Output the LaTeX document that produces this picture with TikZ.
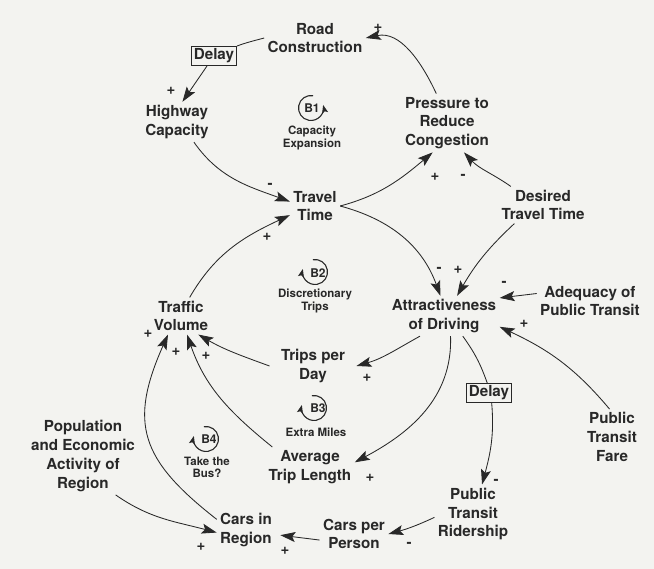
\documentclass[tikz,border=0pt]{standalone}
\usepackage{fontspec}
\setmainfont{TeX Gyre Heros}
\usetikzlibrary{arrows.meta}
\definecolor{ink}{RGB}{40,40,40}
\definecolor{paper}{RGB}{243,243,240}
\begin{document}
\begin{tikzpicture}[x=1pt,y=1pt,
  var/.style={align=center, font=\fontsize{15.2}{18.7}\selectfont\bfseries, text=ink, inner sep=1.5pt, outer sep=2pt},
  pol/.style={font=\fontsize{15}{15}\selectfont\bfseries, text=ink, inner sep=0pt},
  delaybox/.style={draw=ink, line width=0.9pt, font=\fontsize{15.2}{18}\selectfont\bfseries, text=ink, inner sep=2.3pt},
  lname/.style={align=center, font=\fontsize{11.5}{12.2}\selectfont\bfseries, text=ink, inner sep=0pt},
  lid/.style={font=\fontsize{12}{12}\selectfont\bfseries, text=ink, inner sep=0pt},
  link/.style={draw=ink, line width=0.85pt},
  arr/.style={link, -{Stealth[length=15pt,width=10pt,inset=3pt]}},
  looparr/.style={draw=ink, line width=1.1pt, -{Stealth[length=8pt,width=6pt,inset=1.5pt]}},
]
\fill[paper] (0,0) rectangle (654,-569);
\useasboundingbox (0,0) rectangle (654,-569);

% variables
\node[var] (RC)  at (315,-38)  {Road\\Construction};
\node[var] (HC)  at (177,-122) {Highway\\Capacity};
\node[var] (PRC) at (447,-123) {Pressure to\\Reduce\\Congestion};
\node[var] (TT)  at (315,-206) {Travel\\Time};
\node[var] (DTT) at (543,-205) {Desired\\Travel Time};
\node[var] (TV)  at (181,-316) {Traffic\\Volume};
\node[var] (AD)  at (444,-316) {Attractiveness\\of Driving};
\node[var] (APT) at (590,-301) {Adequacy of\\Public Transit};
\node[var] (TPD) at (313,-366) {Trips per\\Day};
\node[var] (ATL) at (310,-467) {Average\\Trip Length};
\node[var] (PTF) at (612,-437) {Public\\Transit\\Fare};
\node[var] (POP) at (83,-456)  {Population\\and Economic\\Activity of\\Region};
\node[var] (CIR) at (246,-530) {Cars in\\Region};
\node[var] (CPP) at (354,-534) {Cars per\\Person};
\node[var] (PTR) at (473,-514) {Public\\Transit\\Ridership};
\node[delaybox] (D1) at (214,-56)  {Delay};
\node[delaybox] (D2) at (489,-393) {Delay};

% links
\draw[arr]  (PRC.110) to[out=115,in=12] (RC.east);
\draw[link] (RC.west) to[out=195,in=20] (D1.north east);
\draw[arr]  (D1.235) -- (HC.75);
\draw[arr]  (HC.-50) to[out=-55,in=160] (TT.170);
\draw[arr]  (TV.65) to[out=60,in=205] (TT.200);
\draw[arr]  (TT.east) to[out=15,in=220] (PRC.244);
\draw[arr]  (DTT.150) to[out=145,in=-47] (PRC.-60);
\draw[arr]  (TT.east) to[out=-15,in=110] (AD.100);
\draw[arr]  (DTT.213) to[out=223,in=60] (AD.57);
\draw[arr]  (APT.172) -- (AD.18);
\draw[arr]  (PTF.95) to[out=130,in=-25] (AD.-11);
\draw[arr]  (AD.220) to[out=209,in=16] ([xshift=8pt]TPD.east);
\draw[arr]  (AD.-72) to[out=-88,in=28] (ATL.6);
\draw[link] (AD.-47) to[bend left=8] (D2.100);
\draw[arr]  (D2.-75) to[out=-85,in=75] (PTR.73);
\draw[arr]  (PTR.185) to[out=205,in=15] (CPP.east);
\draw[arr]  (CPP.190) -- ([xshift=5pt]CIR.-10);
\draw[arr]  (POP.-50) to[out=-35,in=165] (CIR.185);
\draw[arr]  (CIR.160) to[out=142,in=-114,looseness=1.3] (TV.235);
\draw[arr]  (ATL.152) to[out=141,in=-71] (TV.-72);
\draw[arr]  ([xshift=-8pt]TPD.west) to[out=160,in=-30] (TV.-47);

% polarities
\node[pol] (p1)  at (378,-28)  {+};
\node[pol] (p2)  at (171,-91)  {+};
\node[pol] (p3)  at (270,-186) {-};
\node[pol] (p4)  at (267,-237) {+};
\node[pol] (p5)  at (435,-177) {+};
\node[pol] (p6)  at (463,-177) {-};
\node[pol] (p7)  at (439,-270) {-};
\node[pol] (p8)  at (458,-270) {+};
\node[pol] (p9)  at (504,-284) {-};
\node[pol] (p10) at (524,-324) {+};
\node[pol] (p11) at (367,-378) {+};
\node[pol] (p12) at (370,-478) {+};
\node[pol] (p13) at (496,-482) {-};
\node[pol] (p14) at (409,-545) {-};
\node[pol] (p15) at (285,-551) {+};
\node[pol] (p16) at (201,-547) {+};
\node[pol] (p17) at (148,-334) {+};
\node[pol] (p18) at (176,-352) {+};
\node[pol] (p19) at (206,-356) {+};

% loop markers
\coordinate (c1) at (311,-108);
\coordinate (c2) at (315,-272);
\coordinate (c3) at (314,-408);
\coordinate (c4) at (206,-439);
\node[lid] (b1) at (312,-108) {B1};
\node[lid] (b2) at (318,-273) {B2};
\node[lid] (b3) at (318,-408) {B3};
\node[lid] (b4) at (209,-439) {B4};
\draw[looparr] ([shift={(80:12.5pt)}]c1) arc[start angle=80, end angle=374, radius=12.5pt];
\draw[looparr] ([shift={(100:12.5pt)}]c2) arc[start angle=100, end angle=-194, radius=12.5pt];
\draw[looparr] ([shift={(100:12.5pt)}]c3) arc[start angle=100, end angle=-194, radius=12.5pt];
\draw[looparr] ([shift={(100:12.5pt)}]c4) arc[start angle=100, end angle=-194, radius=12.5pt];
\node[lname] (l1) at (312,-138) {Capacity\\Expansion};
\node[lname] (l2) at (315,-301) {Discretionary\\Trips};
\node[lname] (l3) at (316,-432) {Extra Miles};
\node[lname] (l4) at (207,-467) {Take the\\Bus?};
\end{tikzpicture}
\end{document}
